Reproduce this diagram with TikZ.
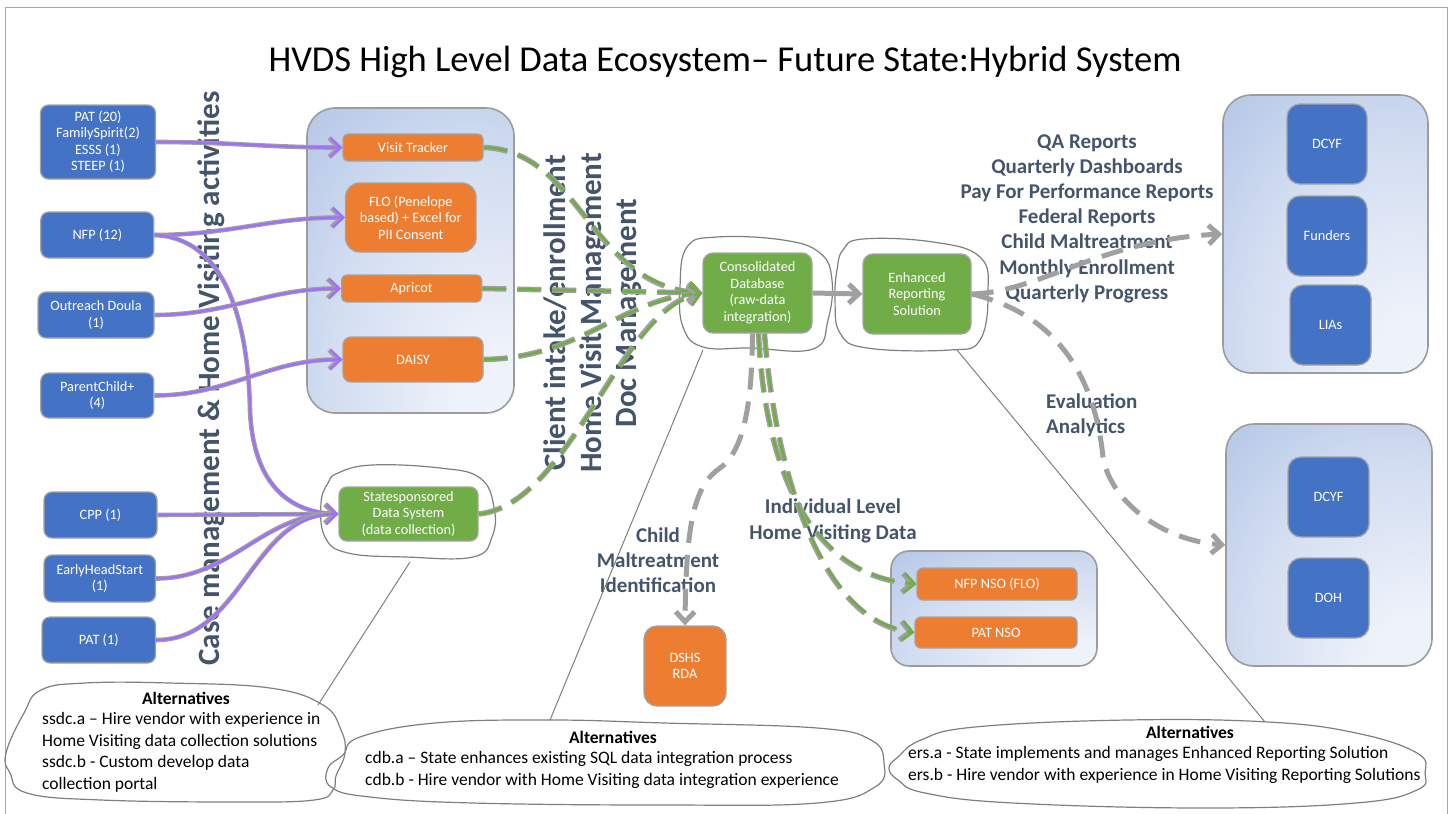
\documentclass[tikz,border=0pt]{standalone}
\usepackage{fontspec}
\setmainfont{Carlito}
\usetikzlibrary{arrows.meta}

\definecolor{bluefill}{HTML}{4472C4}
\definecolor{orangefill}{HTML}{ED7D31}
\definecolor{greenfill}{HTML}{70AD47}
\definecolor{boxline}{HTML}{A3A3A3}
\definecolor{paneline}{HTML}{9C9C9C}
\definecolor{paneLight}{HTML}{EEF2FA}
\definecolor{paneMid}{HTML}{D3DEF1}
\definecolor{paneEdge}{HTML}{AABFE4}
\definecolor{slate}{HTML}{44546A}
\definecolor{arrowgray}{HTML}{A0A0A0}
\definecolor{lavender}{HTML}{A070FA}
\definecolor{greenline}{HTML}{70AD47}
\definecolor{framegray}{HTML}{A6A6A6}
\definecolor{cloudgray}{HTML}{7F7F7F}

\pgfdeclareradialshading{paneshade}{\pgfpoint{25bp}{-30bp}}{%
  color(0bp)=(paneLight); color(12bp)=(paneLight); color(35bp)=(paneMid);
  color(60bp)=(paneEdge); color(100bp)=(paneEdge)}

\newcommand\bxfont{\fontsize{14.3}{16.5}\selectfont}
\newcommand\lblfont{\fontsize{21}{25.2}\selectfont\bfseries}
\newcommand\vfont{\fontsize{31}{35.5}\selectfont\bfseries}
\newcommand\altfont{\fontsize{17.5}{21.6}\selectfont}

% purple connector: grey casing under a lavender stroke
\newcommand\plink[1]{\draw[purpleunder] #1; \draw[purpleover] #1;}
% green dashed connector: grey dashes under green dashes
\newcommand\glink[1]{\draw[greenunder] #1; \draw[greenover] #1;}

\tikzset{
  pane/.style={draw=paneline, line width=1.6pt, shade, shading=paneshade,
    rounded corners=28pt, inner sep=0pt},
  box/.style={draw=boxline, line width=1.3pt, text=white, align=center,
    inner sep=1pt, font=\bxfont},
  bluebox/.style={box, fill=bluefill, rounded corners=8pt},
  bigblue/.style={box, fill=bluefill, rounded corners=13pt},
  orangebox/.style={box, fill=orangefill, rounded corners=5pt},
  greenbox/.style={box, fill=greenfill, rounded corners=10pt},
  lbl/.style={text=slate, font=\lblfont, align=center, inner sep=0pt},
  vlbl/.style={text=slate, font=\vfont, align=center, inner sep=0pt, rotate=90},
  cloudline/.style={draw=cloudgray, line width=1.2pt},
  pointer/.style={draw=cloudgray, line width=1pt},
  barb/.tip={Straight Barb[length=10pt,width=19pt]},
  purpleunder/.style={draw=arrowgray, line width=4.6pt, -barb},
  purpleover/.style={draw=lavender, line width=2.4pt, -barb},
  greenunder/.style={draw=arrowgray, line width=5.5pt, dash pattern=on 24pt off 11pt, -barb},
  greenover/.style={draw=greenline, line width=2.6pt, dash pattern=on 24pt off 11pt, -barb},
  graydash/.style={draw=arrowgray, line width=5pt, dash pattern=on 22pt off 12pt, -barb},
  graysolid/.style={draw=arrowgray, line width=5pt, -barb},
}

\begin{document}
\begin{tikzpicture}[x=1pt,y=-1pt]
\useasboundingbox (0,0) rectangle (1454,814);

% page frame
\draw[draw=framegray, line width=1pt] (5,814) -- (5,7) -- (1447,7) -- (1447,814);

% title
\node[font=\fontsize{36.5}{40}\selectfont, inner sep=0pt] (title) at (725,62)
  {HVDS High Level Data Ecosystem– Future State:Hybrid System};

% grouping panes
\node[pane, minimum width=207pt, minimum height=305pt] (midpane) at (410.5,260.5) {};
\node[pane, minimum width=205pt, minimum height=278pt] (trpane) at (1325.5,234) {};
\node[pane, minimum width=206pt, minimum height=242pt] (brpane) at (1329,545) {};
\node[pane, rounded corners=18pt, minimum width=206pt, minimum height=115pt] (nsopane) at (994,608.5) {};

% rotated captions
\node[vlbl] (casecap) at (211,378.5) {Case management \& Home Visiting activities};
\node[vlbl] (flowcap) at (593,313) {Client intake/enrollment\\Home Visit Management\\Doc Management};

% data flow captions
\node[lbl] (reports) at (1087,218.5) {QA Reports\\Quarterly Dashboards\\Pay For Performance Reports\\Federal Reports\\Child Maltreatment\\Monthly Enrollment\\Quarterly Progress};
\node[lbl, align=left, anchor=west] (evalcap) at (1046,415.5) {Evaluation\\Analytics};
\node[lbl] (indivcap) at (833,521) {Individual Level\\Home Visiting Data};
\node[lbl] (childcap) at (658,560) {Child\\Maltreatment\\Identification};

% home visiting programs
\node[bluebox, minimum width=115pt, minimum height=74pt] (pat20) at (98,142) {PAT (20)\\FamilySpirit(2)\\ESSS (1)\\STEEP (1)};
\node[bluebox, minimum width=113pt, minimum height=46pt] (nfp) at (97.3,235) {NFP (12)};
\node[bluebox, minimum width=116pt, minimum height=46pt] (doula) at (96,315) {Outreach Doula\\(1)};
\node[bluebox, minimum width=113pt, minimum height=45pt] (pcp) at (97.3,395.5) {ParentChild+\\(4)};
\node[bluebox, minimum width=113pt, minimum height=46pt] (cpp) at (100.5,515) {CPP (1)};
\node[bluebox, minimum width=111.5pt, minimum height=47pt] (ehs) at (99.8,578.5) {EarlyHeadStart\\(1)};
\node[bluebox, minimum width=113.5pt, minimum height=46pt] (pat1) at (98.8,640) {PAT (1)};

% program systems
\node[orangebox, minimum width=140pt, minimum height=27pt] (vt) at (413,147.5) {Visit Tracker};
\node[orangebox, rounded corners=14pt, minimum width=130.5pt, minimum height=69pt] (flo) at (410.8,217.5) {FLO (Penelope\\based) + Excel for\\PII Consent};
\node[orangebox, minimum width=140pt, minimum height=27pt] (apricot) at (411.6,288.5) {Apricot};
\node[orangebox, rounded corners=8pt, minimum width=140pt, minimum height=45pt] (daisy) at (413,359.5) {DAISY};

% state systems
\node[greenbox, rounded corners=8pt, minimum width=139pt, minimum height=54pt] (ss) at (408.5,514) {Statesponsored\\Data System\\(data collection)};
\node[greenbox, minimum width=109pt, minimum height=80pt] (db) at (757.5,293) {Consolidated\\Database\\(raw-data\\integration)};
\node[greenbox, minimum width=108pt, minimum height=80pt] (er) at (917,294) {Enhanced\\Reporting\\Solution};

% consumers
\node[bigblue, minimum width=80pt, minimum height=80pt] (dcyfa) at (1327,144) {DCYF};
\node[bigblue, minimum width=80pt, minimum height=80pt] (funders) at (1327,236) {Funders};
\node[bigblue, minimum width=81pt, minimum height=80pt] (lias) at (1330.5,325) {LIAs};
\node[bigblue, minimum width=81pt, minimum height=80pt] (dcyfb) at (1328.5,497) {DCYF};
\node[bigblue, minimum width=81pt, minimum height=80pt] (doh) at (1328.5,598) {DOH};
\node[orangebox, rounded corners=13pt, minimum width=82pt, minimum height=80pt] (dshs) at (685,666) {DSHS\\RDA};
\node[orangebox, rounded corners=6pt, minimum width=160pt, minimum height=32pt] (nfpnso) at (997,584) {NFP NSO (FLO)};
\node[orangebox, rounded corners=6pt, minimum width=162pt, minimum height=31pt] (patnso) at (996,632.5) {PAT NSO};

% hand-drawn outlines around the state systems
\draw[cloudline] plot[smooth cycle, tension=0.7] coordinates {(338,473) (372,465) (440,468) (480,478) (494,507) (492,537) (473,557) (406,557) (348,553) (325,537) (321,503) (328,483)};
\draw[cloudline] plot[smooth cycle, tension=0.7] coordinates {(687,247) (717,237) (783,240) (820,253) (832,280) (828,320) (813,349) (750,348) (703,347) (683,327) (680,287)};
\draw[cloudline] plot[smooth cycle, tension=0.7] coordinates {(843,250) (863,239) (933,242) (980,257) (988,293) (980,340) (950,350) (867,348) (840,333) (835,300) (837,270)};

% program data into systems
\plink{(pat20.east) to[out=0,in=180] (vt.west)}
\plink{(nfp.east) to[out=0,in=180] (flo.west)}
\plink{(nfp.east) .. controls (225,238) and (248,320) .. (250,410) .. controls (253,485) and (290,512) .. (ss.west)}
\plink{(doula.east) to[out=0,in=180] (apricot.west)}
\plink{(pcp.east) to[out=0,in=180] (daisy.west)}
\plink{(cpp.east) -- (ss.west)}
\plink{(ehs.east) to[out=0,in=180] (ss.west)}
\plink{(pat1.east) to[out=0,in=180] (ss.west)}

% systems into the consolidated database
\glink{(vt.east) .. controls (580,150) and (590,285) .. (db.west)}
\glink{(apricot.east) -- (db.west)}
\glink{(daisy.east) .. controls (580,358) and (620,300) .. (db.west)}
\glink{(ss.east) .. controls (570,505) and (620,310) .. (db.west)}

% outputs
\draw[graysolid] (db.east) -- (er.west);
\draw[graydash] (er.east) .. controls (1040,292) and (1100,240) .. (trpane.west);
\draw[graydash] (er.east) .. controls (1060,315) and (1095,380) .. (1103,457) .. controls (1110,500) and (1160,540) .. (brpane.west);
\draw[graydash] ([xshift=-5pt]db.south) .. controls (752,400) and (745,450) .. (720,468) .. controls (695,485) and (686,520) .. (dshs.north);
\glink{([xshift=1pt]db.south) .. controls (765,470) and (810,575) .. (nfpnso.west)}
\glink{([xshift=7pt]db.south) .. controls (775,470) and (820,620) .. (patnso.west)}

% callout pointers
\coordinate (ssTail) at (410,562);
\coordinate (altLTip) at (318,705);
\coordinate (dbTail) at (703,350);
\coordinate (altMTip) at (550,720);
\coordinate (erTail) at (957,350);
\coordinate (altRTip) at (1265,722);
\draw[pointer] (ssTail) -- (altLTip);
\draw[pointer] (dbTail) -- (altMTip);
\draw[pointer] (erTail) -- (altRTip);

% alternatives callouts
\draw[cloudline] plot[smooth cycle, tension=0.7] coordinates {(6,753) (24,713) (41,690) (85,683) (169,683) (270,688) (323,705) (341,730) (345,753) (336,776) (333,790) (314,800) (237,802) (101,800) (27,793) (10,773)};
\draw[cloudline] plot[smooth cycle, tension=0.7] coordinates {(328,768) (343,755) (360,737) (435,723) (550,720) (664,723) (817,728) (871,740) (884,763) (875,787) (817,803) (664,805) (473,803) (370,797) (331,787)};
\draw[cloudline] plot[smooth cycle, tension=0.7] coordinates {(889,768) (898,757) (921,740) (975,727) (1127,720) (1268,722) (1356,733) (1417,753) (1425,773) (1417,790) (1356,803) (1204,808) (1013,803) (925,793) (898,780)};

\node[font=\altfont\bfseries, inner sep=0pt] (altLhead) at (186,698) {Alternatives};
\node[font=\altfont, align=left, anchor=west, inner sep=0pt] (altLbody) at (42,752.5)
  {ssdc.a – Hire vendor with experience in\\Home Visiting data collection solutions\\ssdc.b - Custom develop data\\collection portal};
\node[font=\altfont\bfseries, inner sep=0pt] (altMhead) at (613,737) {Alternatives};
\node[font=\altfont, align=left, anchor=west, inner sep=0pt] (altMbody) at (365,770)
  {cdb.a – State enhances existing SQL data integration process\\cdb.b - Hire vendor with Home Visiting data integration experience};
\node[font=\altfont\bfseries, inner sep=0pt] (altRhead) at (1190,732) {Alternatives};
\node[font=\altfont, align=left, anchor=west, inner sep=0pt] (altRbody) at (908,765)
  {ers.a - State implements and manages Enhanced Reporting Solution\\ers.b - Hire vendor with experience in Home Visiting Reporting Solutions};
\end{tikzpicture}
\end{document}
